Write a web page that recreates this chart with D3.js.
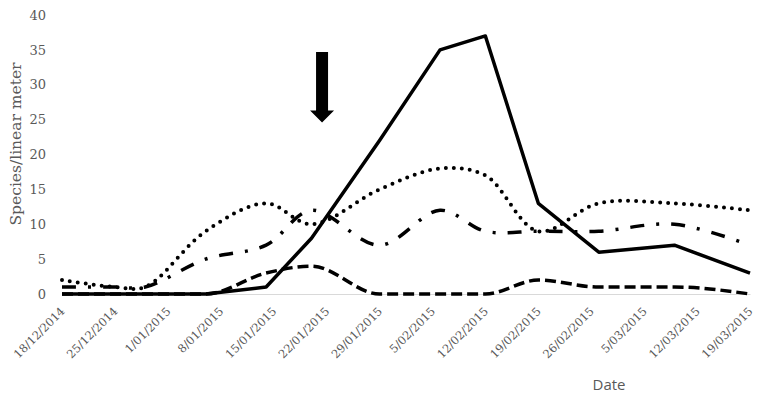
<!DOCTYPE html>
<html>
<head>
<meta charset="utf-8">
<script src="https://cdn.jsdelivr.net/npm/d3@7"></script>
<style>
  body { margin: 0; background: #fff; }
  svg { display: block; }
</style>
</head>
<body>
<div id="chart"></div>
<script>
// sampling dates and series (species per linear meter)
const sampleDates = ['2014-12-18', '2014-12-25', '2014-12-29', '2015-01-06', '2015-01-14', '2015-01-20',
  '2015-01-29', '2015-02-06', '2015-02-12', '2015-02-19', '2015-02-27', '2015-03-09', '2015-03-19'];
const solidValues   = [0, 0, 0, 0, 1, 8, 22, 35, 37, 13, 6, 7, 3];
const dottedValues  = [2, 1, 1, 9, 13, 10, 15, 18, 17, 9, 13, 13, 12];
const dashDotValues = [1, 1, 1, 5, 7, 12, 7, 12, 9, 9, 9, 10, 7];
const dashedValues  = [0, 0, 0, 0, 3, 4, 0, 0, 0, 2, 1, 1, 0];

const tickDates = ['2014-12-18', '2014-12-25', '2015-01-01', '2015-01-08', '2015-01-15', '2015-01-22', '2015-01-29',
  '2015-02-05', '2015-02-12', '2015-02-19', '2015-02-26', '2015-03-05', '2015-03-12', '2015-03-19'];
const yTicks = [0, 5, 10, 15, 20, 25, 30, 35, 40];

// arrow annotation (date, top value, tip value)
const arrowDate = '2015-01-21';
const arrowTop = 34.7, arrowTip = 24.6;

const parse = d3.timeParse('%Y-%m-%d');
const width = 757, height = 406;
const svg = d3.select('#chart').append('svg')
  .attr('width', width).attr('height', height);

const x = d3.scaleTime()
  .domain([parse(tickDates[0]), parse(tickDates[tickDates.length - 1])])
  .range([62, 750]);
const y = d3.scaleLinear().domain([0, 40]).range([294, 15]);

// y axis labels
const yAxis = svg.append('g')
  .attr('transform', 'translate(46,0)')
  .call(d3.axisLeft(y).tickValues(yTicks).tickSize(0).tickPadding(0));
yAxis.select('.domain').remove();
yAxis.selectAll('text')
  .attr('fill', '#595959')
  .style('font-family', '"DejaVu Serif", serif')
  .style('font-size', '13px');

// x axis
const xAxis = svg.append('g')
  .attr('transform', 'translate(0,294)')
  .call(d3.axisBottom(x).tickValues(tickDates.map(parse)).tickSize(0)
    .tickFormat(d3.timeFormat('%-d/%m/%Y')));
xAxis.select('.domain').attr('stroke', '#d9d9d9').attr('stroke-width', 1);
xAxis.selectAll('text')
  .attr('fill', '#595959')
  .style('font-family', '"DejaVu Serif", serif')
  .style('font-size', '11.5px')
  .attr('text-anchor', 'end')
  .attr('dy', 0)
  .attr('y', 0)
  .attr('transform', 'translate(3,18) rotate(-45)');

// axis titles
svg.append('text')
  .attr('transform', 'translate(21,144) rotate(-90)')
  .attr('text-anchor', 'middle')
  .attr('fill', '#595959')
  .style('font-family', '"DejaVu Serif", serif')
  .style('font-size', '15.5px')
  .text('Species/linear meter');

svg.append('text')
  .attr('x', 609).attr('y', 390)
  .attr('text-anchor', 'middle')
  .attr('fill', '#595959')
  .style('font-family', '"Open Sans", sans-serif')
  .style('font-size', '15px')
  .text('Date');

// series
const dates = sampleDates.map(parse);
const series = [
  { values: dashedValues, dash: '11 5', cap: 'butt', curve: d3.curveMonotoneX },
  { values: dashDotValues, dash: '14 12 3 12', cap: 'butt', curve: d3.curveCatmullRom.alpha(0.5) },
  { values: dottedValues, dash: '0 8', cap: 'round', curve: d3.curveCatmullRom.alpha(0.5) },
  { values: solidValues, dash: null, cap: 'butt', curve: d3.curveLinear }
];

series.forEach(s => {
  const line = d3.line()
    .x((d, i) => x(dates[i]))
    .y(d => y(d))
    .curve(s.curve);
  svg.append('path')
    .datum(s.values)
    .attr('d', line)
    .attr('fill', 'none')
    .attr('stroke', '#000')
    .attr('stroke-width', s.cap === 'round' ? 4 : 3.5)
    .attr('stroke-linecap', s.cap)
    .attr('stroke-linejoin', 'round')
    .attr('stroke-dasharray', s.dash);
});

// arrow
const ax = x(parse(arrowDate)) + 3;
const headY = y(arrowTip) - 12;
svg.append('path')
  .attr('d', `M${ax - 6},${y(arrowTop)} L${ax + 6},${y(arrowTop)} L${ax + 6},${headY} L${ax + 12},${headY}
    L${ax},${y(arrowTip)} L${ax - 12},${headY} L${ax - 6},${headY} Z`)
  .attr('fill', '#000');
</script>
</body>
</html>
